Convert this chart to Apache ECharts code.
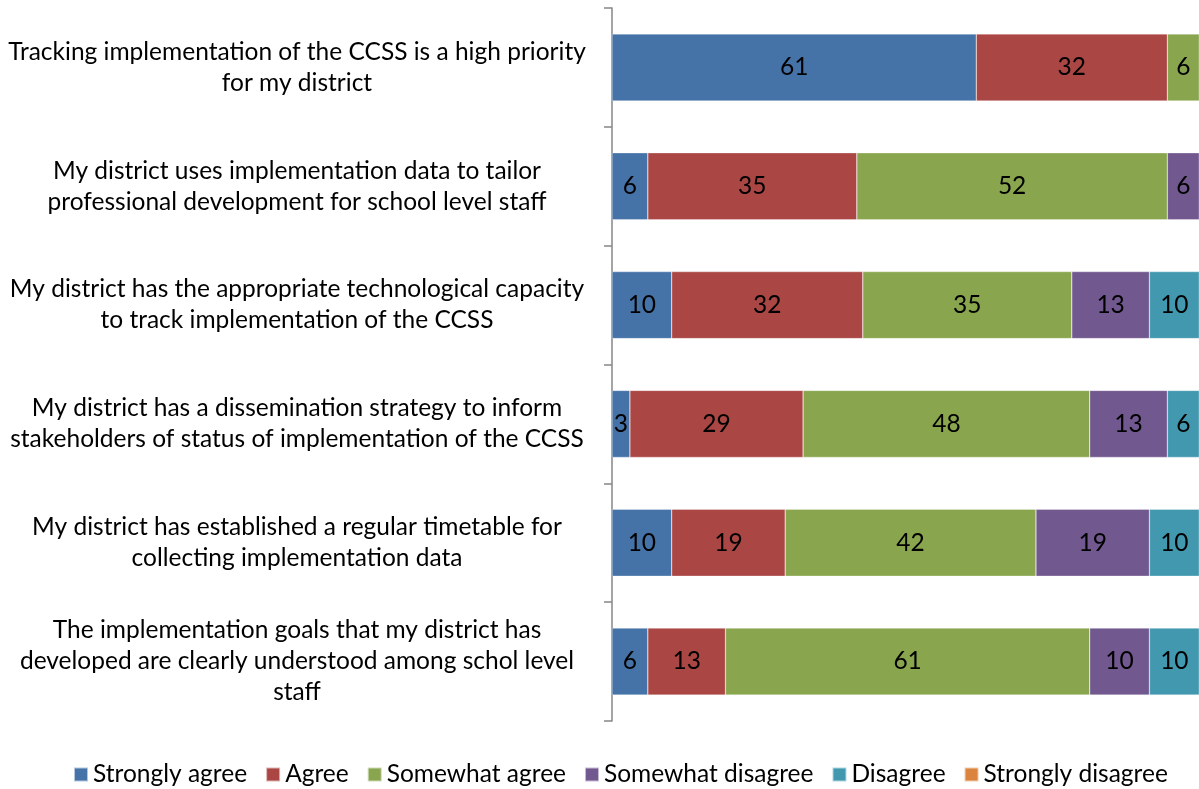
<!DOCTYPE html>
<html>
<head>
<meta charset="utf-8">
<script src="https://cdn.jsdelivr.net/npm/echarts@6/dist/echarts.min.js"></script>
<style>
  html, body { margin: 0; padding: 0; background: #fff; }
  #chart1 { width: 1199px; height: 789px; }
</style>
</head>
<body>
<div id="chart1"></div>
<script>
const categories = [
    'Tracking implementation of the CCSS is a high priority\nfor my district',
    'My district uses implementation data to tailor\nprofessional development for school level staff',
    'My district has the appropriate technological capacity\nto track implementation of the CCSS',
    'My district has a dissemination strategy to inform\nstakeholders of status of implementation of the CCSS',
    'My district has established a regular timetable for\ncollecting implementation data',
    'The implementation goals that my district has\ndeveloped are clearly understood among schol level\nstaff'
];

const seriesNames = ['Strongly agree', 'Agree', 'Somewhat agree', 'Somewhat disagree', 'Disagree', 'Strongly disagree'];
const seriesColors = ['#4572A7', '#AA4643', '#89A54E', '#71588F', '#4198AF', '#DB843D'];

const stronglyAgree = [61, 6, 10, 3, 10, 6];
const agree = [32, 35, 32, 29, 19, 13];
const somewhatAgree = [6, 52, 35, 48, 42, 61];
const somewhatDisagree = [0, 6, 13, 13, 19, 10];
const disagree = [0, 0, 10, 6, 10, 10];
const stronglyDisagree = [0, 0, 0, 0, 0, 0];

const seriesValues = [stronglyAgree, agree, somewhatAgree, somewhatDisagree, disagree, stronglyDisagree];

const FONT = 'Lato, "Noto Sans", sans-serif';

// the plot runs a little past the right edge of the picture, so the visible max is under 100
const getOptionChart1 = () => {
    return {
        animation: false,
        color: seriesColors,
        grid: {
            left: 612,
            right: 0,
            top: 8,
            bottom: 68
        },
        legend: {
            bottom: -3,
            left: 68,
            icon: 'rect',
            itemWidth: 14,
            itemHeight: 14,
            itemGap: 18,
            textStyle: { fontFamily: FONT, fontSize: 24.5, color: '#000' },
            data: seriesNames
        },
        xAxis: {
            type: 'value',
            min: 0,
            max: 98.3,
            show: false
        },
        yAxis: {
            type: 'category',
            inverse: true,
            data: categories,
            axisLine: { show: true, lineStyle: { color: '#868686', width: 1.5 } },
            axisTick: { show: true, length: 8, lineStyle: { color: '#868686', width: 1.5 } },
            axisLabel: {
                margin: 315,
                align: 'center',
                fontFamily: FONT,
                fontSize: 24.5,
                lineHeight: 31,
                color: '#000'
            }
        },
        series: seriesNames.map((name, i) => ({
            name: name,
            type: 'bar',
            stack: 'total',
            barWidth: 67,
            data: seriesValues[i],
            itemStyle: { borderColor: 'rgba(255,255,255,0.6)', borderWidth: 0.5 },
            label: {
                show: true,
                position: 'inside',
                fontFamily: FONT,
                fontSize: 24.5,
                color: '#000',
                formatter: (p) => (p.value ? String(p.value) : '')
            }
        }))
    };
};

const initCharts = () => {
    const chart1 = echarts.init(document.getElementById("chart1"));
    chart1.setOption(getOptionChart1());
};

window.addEventListener("load", () => {
    initCharts();
});
</script>
</body>
</html>
